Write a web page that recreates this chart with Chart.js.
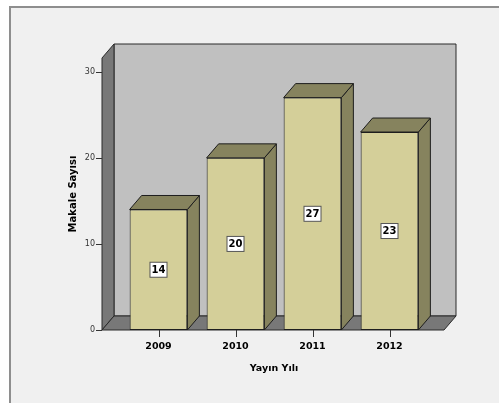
<!DOCTYPE html>
<html>
<head>
<meta charset="utf-8">
<script src="https://cdn.jsdelivr.net/npm/chart.js@4.4.1/dist/chart.umd.min.js"></script>
<style>
  html, body { margin: 0; padding: 0; background: #fff; overflow: hidden; }
  #wrap { position: relative; width: 499px; height: 403px; }
  canvas { display: block; }
</style>
</head>
<body>
<div id="wrap"><canvas id="c" width="499" height="403"></canvas></div>
<script>
// data
var years = ['2009', '2010', '2011', '2012'];
var articleCounts = [14, 20, 27, 23];
var yTitle = 'Makale Sayısı';
var xTitle = 'Yayın Yılı';

// depth of the fake 3d
var DX = 12, DY = -14;

function poly(ctx, pts, fill, stroke) {
    ctx.beginPath();
    ctx.moveTo(pts[0][0], pts[0][1]);
    for (var i = 1; i < pts.length; i++) ctx.lineTo(pts[i][0], pts[i][1]);
    ctx.closePath();
    ctx.fillStyle = fill;
    ctx.fill();
    ctx.lineWidth = 1;
    ctx.strokeStyle = stroke;
    ctx.stroke();
}

var box3d = {
    id: 'box3d',
    beforeDraw: function(chart) {
        var ctx = chart.ctx;
        ctx.save();
        ctx.fillStyle = '#ffffff';
        ctx.fillRect(0, 0, chart.width, chart.height);
        ctx.fillStyle = '#f0f0f0';
        ctx.fillRect(9, 7, chart.width, chart.height);
        ctx.fillStyle = '#8e8e8e';
        ctx.fillRect(9, 6, chart.width, 2);
        ctx.fillRect(9, 6, 2, chart.height);
        ctx.restore();
    },
    beforeDatasetsDraw: function(chart) {
        var ctx = chart.ctx, a = chart.chartArea;
        var L = a.left - 18, R = a.right + 16, T = a.top, B = a.bottom;
        ctx.save();
        // back wall
        poly(ctx, [[L+DX, T+DY], [R+DX, T+DY], [R+DX, B+DY], [L+DX, B+DY]], '#c0c0c0', '#2a2a2a');
        // left wall
        poly(ctx, [[L, T], [L+DX, T+DY], [L+DX, B+DY], [L, B]], '#787878', '#2a2a2a');
        // floor
        poly(ctx, [[L, B], [L+DX, B+DY], [R+DX, B+DY], [R, B]], '#787878', '#2a2a2a');
        ctx.restore();
    },
    afterDatasetsDraw: function(chart) {
        var ctx = chart.ctx, a = chart.chartArea;
        var meta = chart.getDatasetMeta(0);
        var yScale = chart.scales.y, xScale = chart.scales.x;
        ctx.save();
        meta.data.forEach(function(bar, i) {
            var p = bar.getProps(['x', 'y', 'base', 'width'], true);
            var l = p.x - p.width / 2, r = p.x + p.width / 2;
            // side
            poly(ctx, [[r, p.y], [r+DX, p.y+DY], [r+DX, p.base+DY], [r, p.base]], '#86835e', '#1e1e1e');
            // top
            poly(ctx, [[l, p.y], [l+DX, p.y+DY], [r+DX, p.y+DY], [r, p.y]], '#86835e', '#1e1e1e');
            // value label
            var v = articleCounts[i];
            var cy = (p.y + p.base) / 2;
            ctx.fillStyle = '#ffffff';
            ctx.fillRect(p.x - 8.5, cy - 7.5, 17, 15);
            ctx.strokeStyle = '#555555';
            ctx.lineWidth = 1;
            ctx.strokeRect(p.x - 8.5, cy - 7.5, 17, 15);
            ctx.fillStyle = '#000';
            ctx.font = 'bold 10px "DejaVu Sans"';
            ctx.textAlign = 'center';
            ctx.textBaseline = 'middle';
            ctx.fillText(String(v), p.x, cy + 0.5);
        });
        // tick marks
        ctx.strokeStyle = '#333';
        ctx.lineWidth = 1;
        var L = a.left - 18;
        yScale.ticks.forEach(function(t) {
            var yy = Math.round(yScale.getPixelForValue(t.value)) + 0.5;
            ctx.beginPath();
            ctx.moveTo(L - 6, yy);
            ctx.lineTo(L, yy);
            ctx.stroke();
        });
        years.forEach(function(y, i) {
            var xx = Math.round(xScale.getPixelForValue(i)) + 0.5;
            ctx.beginPath();
            ctx.moveTo(xx, a.bottom);
            ctx.lineTo(xx, a.bottom + 7);
            ctx.stroke();
        });
        ctx.restore();
    }
};

new Chart(document.getElementById('c'), {
    type: 'bar',
    data: {
        labels: years,
        datasets: [{
            data: articleCounts,
            backgroundColor: '#d4cf99',
            borderColor: '#1e1e1e',
            borderWidth: 1,
            borderSkipped: false,
            barPercentage: 0.75,
            categoryPercentage: 1
        }]
    },
    options: {
        responsive: false,
        animation: false,
        devicePixelRatio: 1,
        layout: { padding: { left: 0, right: 71, top: 58, bottom: 0 } },
        plugins: { legend: { display: false }, tooltip: { enabled: false } },
        scales: {
            x: {
                grid: { display: false, drawTicks: true, tickLength: 8 },
                border: { display: false },
                ticks: { padding: 3, color: '#000', font: { family: 'DejaVu Sans', size: 9.5, weight: 'bold' } },
                title: { display: true, text: xTitle, color: '#000',
                         font: { family: 'DejaVu Sans', size: 9.5, weight: 'bold' },
                         padding: { top: 0, bottom: 29 } },
                afterFit: function(s) { s.height = 73; }
            },
            y: {
                min: 0,
                max: 31.6,
                grid: { display: false, drawTicks: true, tickLength: 22 },
                border: { display: false },
                ticks: { stepSize: 10, includeBounds: false, padding: 3, color: '#333',
                         font: { family: 'DejaVu Sans', size: 8 } },
                title: { display: true, text: yTitle, color: '#000',
                         font: { family: 'DejaVu Sans', size: 10, weight: 'bold' },
                         padding: { top: 67, bottom: 0 } },
                afterFit: function(s) { s.width = 120; }
            }
        }
    },
    plugins: [box3d]
});
</script>
</body>
</html>
